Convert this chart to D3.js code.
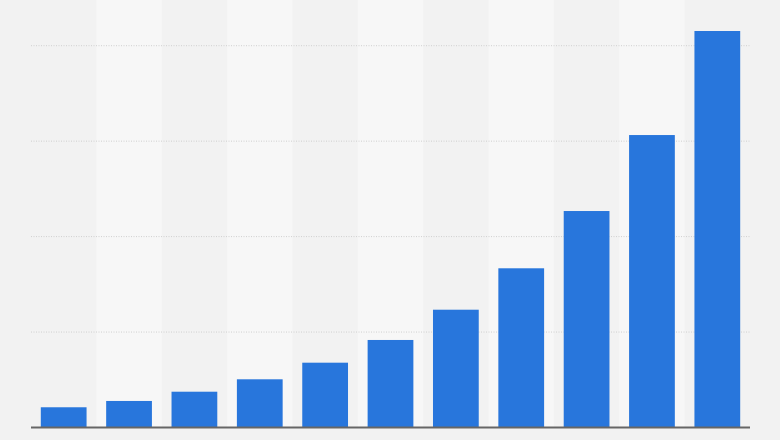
<!DOCTYPE html>
<html>
<head>
<meta charset="utf-8">
<script src="https://cdn.jsdelivr.net/npm/d3@7/dist/d3.min.js"></script>
<style>
  html, body { margin: 0; padding: 0; background: #f2f2f2; }
  svg { display: block; }
</style>
</head>
<body>
<svg id="chart" width="780" height="440"></svg>
<script>
// Data (no labels are shown in the reference)
const categories = ["1", "2", "3", "4", "5", "6", "7", "8", "9", "10", "11"];
const values = [21.2, 27.8, 37.5, 50.5, 67.9, 91.7, 123.4, 166.8, 226.8, 306.4, 415.4];
const gridTicks = [100, 200, 300, 400];

const svg = d3.select("#chart");
const W = 780, H = 440;
const left = 31, right = 750, baseY = 427.5, topTickY = 45.7;

svg.append("rect").attr("width", W).attr("height", H).attr("fill", "#f2f2f2");

const x = d3.scaleBand()
  .domain(categories)
  .range([left, right])
  .paddingInner(0.3)
  .paddingOuter(0.15);

const y = d3.scaleLinear()
  .domain([0, 400])
  .range([baseY, topTickY]);

// alternating stripes
const step = x.step();
svg.append("g").selectAll("rect")
  .data(categories.filter((d, i) => i % 2 === 1))
  .join("rect")
  .attr("x", d => x(d) - step * x.paddingInner() / 2)
  .attr("y", 0)
  .attr("width", step)
  .attr("height", baseY)
  .attr("fill", "#f7f7f7");

// gridlines
svg.append("g").selectAll("line")
  .data(gridTicks)
  .join("line")
  .attr("x1", left).attr("x2", right)
  .attr("y1", d => y(d)).attr("y2", d => y(d))
  .attr("stroke", "#cfcfcf")
  .attr("stroke-width", 1)
  .attr("stroke-dasharray", "1,1.5");

// bars
svg.append("g").selectAll("rect")
  .data(values)
  .join("rect")
  .attr("x", (d, i) => x(categories[i]))
  .attr("y", d => y(d))
  .attr("width", x.bandwidth())
  .attr("height", d => y(0) - y(d))
  .attr("fill", "#2876dc");

// baseline
svg.append("line")
  .attr("x1", left).attr("x2", right)
  .attr("y1", y(0)).attr("y2", y(0))
  .attr("stroke", "#666666")
  .attr("stroke-width", 2);
</script>
</body>
</html>
